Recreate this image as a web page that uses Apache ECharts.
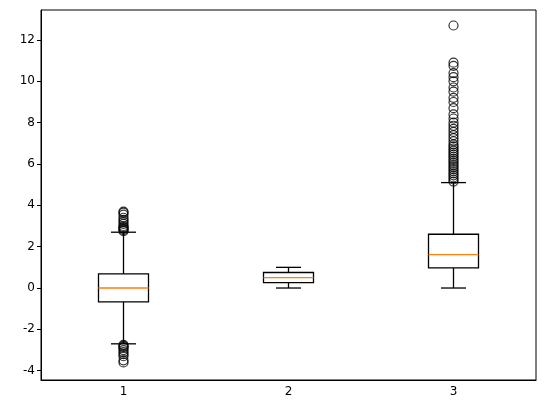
<!DOCTYPE html>
<html>
<head>
<meta charset="utf-8">
<script src="https://cdn.jsdelivr.net/npm/echarts@6/dist/echarts.min.js"></script>
<style>
  body { margin: 0; background: #fff; }
  #main { width: 546px; height: 413px; }
</style>
</head>
<body>
<div id="main"></div>
<script>
var categories = ['1', '2', '3'];
// [whiskerLow, q1, median, q3, whiskerHigh]
var boxStats = [
  [-2.7, -0.67, 0.0, 0.68, 2.7],
  [0.0, 0.26, 0.5, 0.75, 1.0],
  [0.0, 0.97, 1.62, 2.6, 5.1]
];
var outliers1 = [2.75, 2.8, 2.85, 2.9, 2.95, 3.0, 3.1, 3.2, 3.3, 3.4, 3.55, 3.65, 3.7,
  -2.75, -2.8, -2.85, -2.9, -3.0, -3.1, -3.2, -3.3, -3.5, -3.6];
var outliers2 = [];
var outliers3 = [5.15, 5.25, 5.35, 5.45, 5.55, 5.65, 5.75, 5.85, 5.95, 6.05, 6.15, 6.25,
  6.35, 6.45, 6.55, 6.65, 6.75, 6.85, 6.95, 7.1, 7.25, 7.4, 7.55, 7.7, 7.85, 8.0, 8.2,
  8.4, 8.7, 9.0, 9.2, 9.5, 9.7, 10.0, 10.2, 10.4, 10.75, 10.9, 12.7];
var yTicks = [-4, -2, 0, 2, 4, 6, 8, 10, 12];

var outlierPoints = [];
[outliers1, outliers2, outliers3].forEach(function (arr, i) {
  arr.forEach(function (v) { outlierPoints.push([i, v]); });
});

var chart = echarts.init(document.getElementById('main'));
chart.setOption({
  animation: false,
  grid: { left: 41, right: 10, top: 10, bottom: 33, show: true, borderColor: '#000', borderWidth: 1 },
  xAxis: {
    type: 'category', data: categories,
    axisLine: { onZero: false, lineStyle: { color: '#000' } },
    axisTick: { alignWithLabel: true, length: 4, lineStyle: { color: '#000' } },
    axisLabel: { color: '#000', fontSize: 12, fontFamily: 'DejaVu Sans', margin: 6 },
    splitLine: { show: false }
  },
  yAxis: {
    type: 'value', min: -4.45, max: 13.45,
    axisLine: { show: true, lineStyle: { color: '#000' } },
    axisTick: { show: true, length: 4, customValues: yTicks, lineStyle: { color: '#000' } },
    axisLabel: { color: '#000', fontSize: 12, fontFamily: 'DejaVu Sans', customValues: yTicks, margin: 6 },
    splitLine: { show: false }
  },
  series: [
    {
      type: 'custom',
      data: boxStats.map(function (s, i) { return [i].concat(s); }),
      renderItem: function (params, api) {
        var x = api.value(0);
        var pLow = api.coord([x, api.value(1)]);
        var pQ1 = api.coord([x, api.value(2)]);
        var pMed = api.coord([x, api.value(3)]);
        var pQ3 = api.coord([x, api.value(4)]);
        var pHigh = api.coord([x, api.value(5)]);
        var cx = pLow[0], hw = 25, cw = 12.5;
        var ls = { stroke: '#000', lineWidth: 1.3 };
        return {
          type: 'group',
          children: [
            { type: 'line', shape: { x1: cx, y1: pQ1[1], x2: cx, y2: pLow[1] }, style: ls },
            { type: 'line', shape: { x1: cx, y1: pQ3[1], x2: cx, y2: pHigh[1] }, style: ls },
            { type: 'line', shape: { x1: cx - cw, y1: pLow[1], x2: cx + cw, y2: pLow[1] }, style: ls },
            { type: 'line', shape: { x1: cx - cw, y1: pHigh[1], x2: cx + cw, y2: pHigh[1] }, style: ls },
            { type: 'rect', shape: { x: cx - hw, y: pQ3[1], width: 2 * hw, height: pQ1[1] - pQ3[1] },
              style: { fill: '#fff', stroke: '#000', lineWidth: 1.3 } },
            { type: 'line', shape: { x1: cx - hw, y1: pMed[1], x2: cx + hw, y2: pMed[1] },
              style: { stroke: '#ff7f0e', lineWidth: 1.3 } }
          ]
        };
      }
    },
    {
      type: 'scatter',
      data: outlierPoints,
      symbol: 'circle',
      symbolSize: 9,
      itemStyle: { color: 'rgba(0,0,0,0)', borderColor: '#000', borderWidth: 1.2 }
    }
  ]
});
</script>
</body>
</html>
